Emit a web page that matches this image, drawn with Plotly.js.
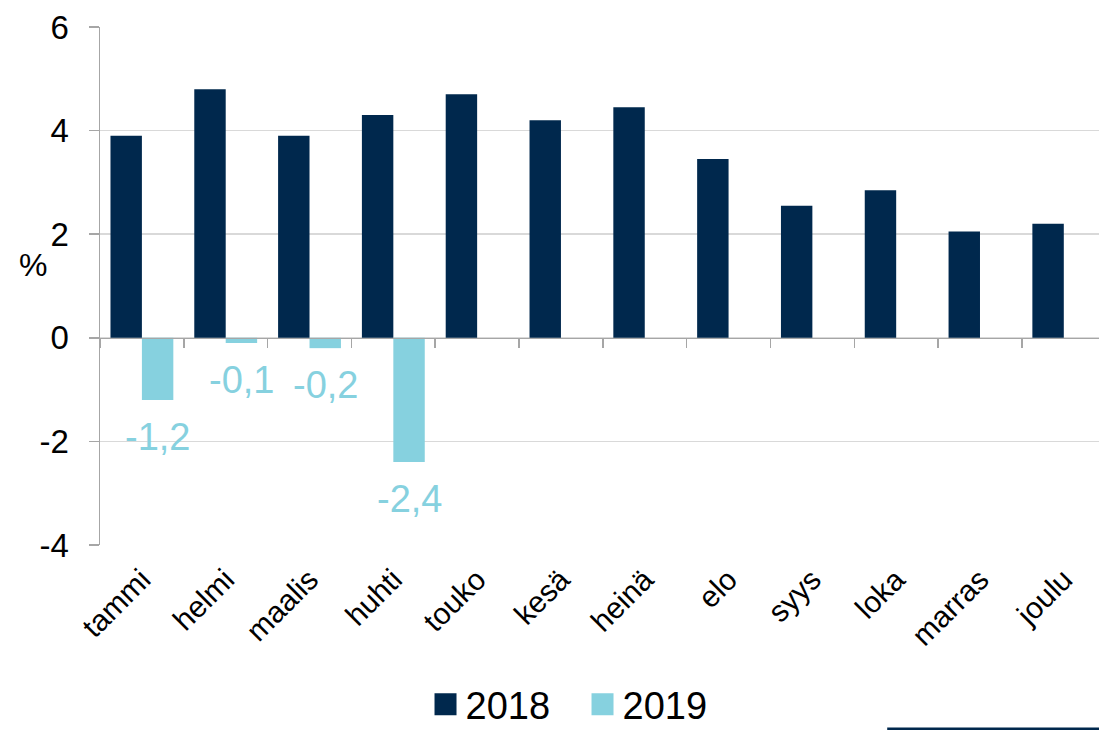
<!DOCTYPE html>
<html>
<head>
<meta charset="utf-8">
<script src="https://cdn.plot.ly/plotly-3.0.1.min.js"></script>
<style>
  html, body { margin: 0; padding: 0; background: #fff; }
  #chart { width: 1099px; height: 730px; }
</style>
</head>
<body>
<div id="chart"></div>
<script>
// ---- Data ----
const months = ['tammi', 'helmi', 'maalis', 'huhti', 'touko', 'kesä', 'heinä', 'elo', 'syys', 'loka', 'marras', 'joulu'];
const values2018 = [3.9, 4.8, 3.9, 4.3, 4.7, 4.2, 4.45, 3.45, 2.55, 2.85, 2.05, 2.2];
const values2019 = [-1.2, -0.1, -0.2, -2.4, null, null, null, null, null, null, null, null];
const yTickVals = [-4, -2, 0, 2, 4, 6];
const yTickText = ['-4', '-2', '0', '2', '4', '6'];
const seriesNames = ['2018', '2019'];

const NAVY = '#00284D';
const LIGHT = '#86D1DF';
const FONT = 'Arial, "Liberation Sans", sans-serif';

const xRange = [-0.5, 11.42];

// value labels for the 2019 series, placed under each bar end
const labelAnnotations = [];
values2019.forEach((v, i) => {
  if (v === null) return;
  labelAnnotations.push({
    text: v.toFixed(1).replace('.', ','), x: months[i], y: v, xref: 'x', yref: 'y',
    showarrow: false, xanchor: 'center', yanchor: 'top', xshift: 16, yshift: -14,
    font: { family: FONT, size: 38, color: LIGHT }
  });
});

const traces = [
  {
    type: 'bar', name: seriesNames[0], x: months, y: values2018,
    marker: { color: NAVY, line: { width: 0 } },
    hoverinfo: 'skip'
  },
  {
    type: 'bar', name: seriesNames[1], x: months, y: values2019,
    marker: { color: LIGHT, line: { width: 0 } },
    hoverinfo: 'skip'
  },
  {
    type: 'scatter', mode: 'none', x: months, y: months.map(() => 0),
    xaxis: 'x2', yaxis: 'y', showlegend: false, hoverinfo: 'skip'
  }
];

const layout = {
  width: 1099, height: 730,
  margin: { l: 100, r: 0, t: 27, b: 185, autoexpand: false },
  paper_bgcolor: '#ffffff', plot_bgcolor: '#ffffff',
  font: { family: FONT, color: '#000000' },
  barmode: 'group', bargap: 0.25, bargroupgap: 0,
  showlegend: true,
  legend: {
    orientation: 'h', x: 0.483, xanchor: 'center', y: -0.308, yanchor: 'middle',
    entrywidth: 112, entrywidthmode: 'pixels', maxheight: 150,
    font: { family: FONT, size: 38, color: '#000' }, itemclick: false, itemdoubleclick: false
  },
  xaxis: {
    type: 'category', categoryorder: 'array', categoryarray: months, range: xRange,
    showgrid: false, showline: false, zeroline: false, ticks: '',
    tickangle: -45, tickfont: { family: FONT, size: 30, color: '#000' },
    ticklabelstandoff: 10, fixedrange: true
  },
  xaxis2: {
    type: 'category', categoryorder: 'array', categoryarray: months, range: xRange,
    overlaying: 'x', anchor: 'free', position: 0.4,
    showgrid: false, showline: true, linecolor: '#A6A6A6', linewidth: 1.5, zeroline: false,
    ticks: 'outside', tickson: 'boundaries', ticklen: 9, tickcolor: '#A6A6A6', tickwidth: 1.5,
    showticklabels: false, fixedrange: true
  },
  yaxis: {
    range: [-4, 6], tickmode: 'array', tickvals: yTickVals, ticktext: yTickText,
    showgrid: true, gridcolor: '#D9D9D9', gridwidth: 1.5,
    zeroline: false, showline: true, linecolor: '#A6A6A6', linewidth: 1.5,
    ticks: 'outside', ticklen: 10, tickcolor: '#A6A6A6', tickwidth: 1.5,
    tickfont: { family: FONT, size: 33, color: '#000' },
    ticklabelstandoff: 13, fixedrange: true
  },
  annotations: [
    { text: '%', xref: 'paper', yref: 'y', x: -0.067, y: 1.4, showarrow: false,
      xanchor: 'center', yanchor: 'middle', font: { family: FONT, size: 32, color: '#000' } }
  ].concat(labelAnnotations),
  shapes: [
    { type: 'line', xref: 'paper', yref: 'paper', x0: 0.788, x1: 1.0, y0: -0.355, y1: -0.355,
      line: { color: NAVY, width: 3 } }
  ]
};

Plotly.newPlot('chart', traces, layout, { displayModeBar: false, staticPlot: true }).then(gd => {
  gd.querySelectorAll('.legendpoints path').forEach(p => {
    p.setAttribute('d', 'M11,11H-11V-11H11Z');
  });
});
</script>
</body>
</html>
